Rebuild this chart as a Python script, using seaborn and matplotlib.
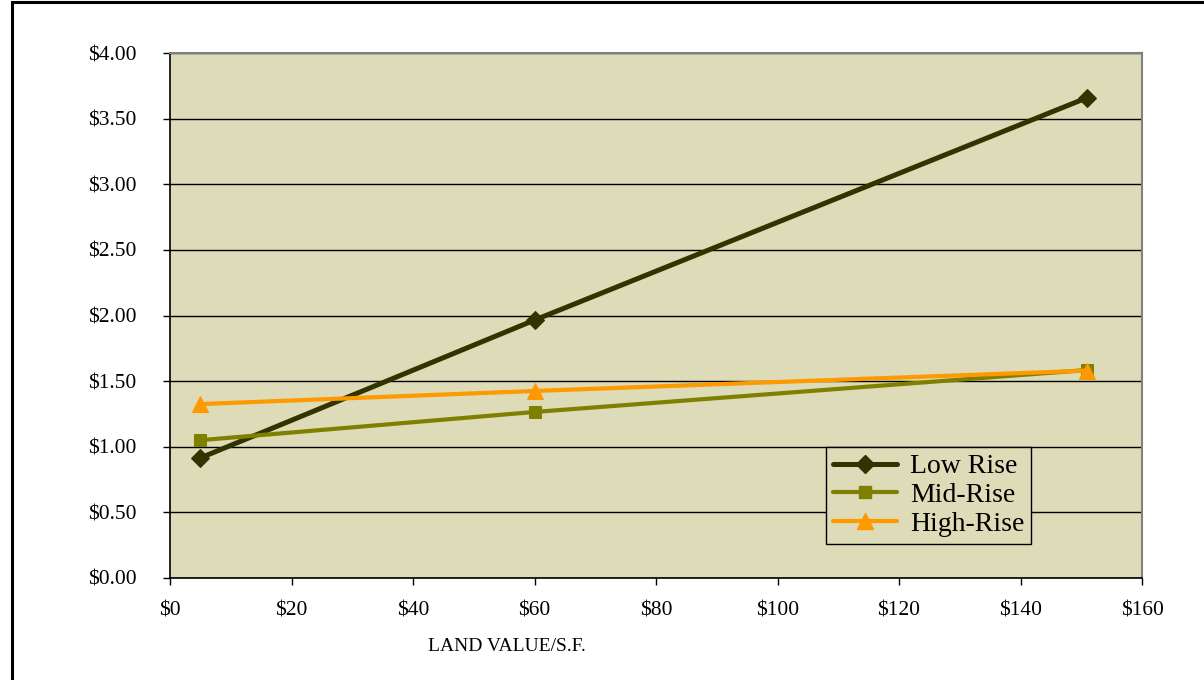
import matplotlib
matplotlib.use("Agg")
import matplotlib.pyplot as plt
from matplotlib.lines import Line2D
from matplotlib.patches import Rectangle
import pandas as pd
import seaborn as sns

# Land value per square foot ($) and resulting cost per series
land_value = [5, 60, 151]
low_rise = [0.915, 1.965, 3.66]
mid_rise = [1.05, 1.265, 1.585]
high_rise = [1.325, 1.425, 1.58]

series_names = ["Low Rise", "Mid-Rise", "High-Rise"]
x_ticks = [0, 20, 40, 60, 80, 100, 120, 140, 160]
y_ticks = [0.0, 0.5, 1.0, 1.5, 2.0, 2.5, 3.0, 3.5, 4.0]

colors = {"Low Rise": "#333300", "Mid-Rise": "#808000", "High-Rise": "#FF9900"}
markers = {"Low Rise": "D", "Mid-Rise": "s", "High-Rise": "^"}
msizes = {"Low Rise": 9.5, "Mid-Rise": 9, "High-Rise": 12}
lwidths = {"Low Rise": 3.6, "Mid-Rise": 3.0, "High-Rise": 3.0}

df = pd.concat([
    pd.DataFrame({"land": land_value, "cost": vals, "type": name})
    for name, vals in zip(series_names, [low_rise, mid_rise, high_rise])
], ignore_index=True)

sns.set_style("white")
plt.rcParams["font.family"] = ["Liberation Serif", "DejaVu Serif"]
plt.rcParams["text.color"] = "#000000"
plt.rcParams["xtick.color"] = "#000000"
plt.rcParams["ytick.color"] = "#000000"
plt.rcParams["axes.labelcolor"] = "#000000"

fig = plt.figure(figsize=(12.04, 6.8), dpi=100)
ax = fig.add_axes([170 / 1204, 1 - 578 / 680, (1142 - 170) / 1204, (578 - 53) / 680])
ax.set_facecolor("#DEDBB8")

for name in series_names:
    sub = df[df["type"] == name]
    sns.lineplot(data=sub, x="land", y="cost", ax=ax, color=colors[name],
                 marker=markers[name], markersize=msizes[name],
                 markeredgecolor=colors[name], linewidth=lwidths[name],
                 label=None, legend=False, zorder=3)

ax.set_xlim(0, 160)
ax.set_ylim(0, 4)
ax.set_xticks(x_ticks)
ax.set_yticks(y_ticks)
ax.set_xticklabels([f"${v}" for v in x_ticks], fontsize=15.5)
ax.set_yticklabels([f"${v:.2f}" for v in y_ticks], fontsize=15.5)
ax.set_xlabel("LAND VALUE/S.F.", fontsize=14)
ax.xaxis.set_label_coords((507 - 170) / 972, -0.115)
ax.set_ylabel("")

ax.yaxis.grid(True, color="#000000", linewidth=1.0)
ax.xaxis.grid(False)
ax.set_axisbelow(True)

ax.tick_params(axis="both", direction="out", length=5, width=1, color="#000000",
               left=True, bottom=True)
ax.tick_params(axis="y", pad=19)
ax.tick_params(axis="x", pad=12)
for side in ["left", "bottom"]:
    ax.spines[side].set_color("#000000")
    ax.spines[side].set_linewidth(1.2)
for side in ["top", "right"]:
    ax.spines[side].set_color("#808080")
    ax.spines[side].set_linewidth(1.5)

handles = [Line2D([0], [0], color=colors[n], marker=markers[n], markersize=msizes[n],
                  markeredgecolor=colors[n], linewidth=lwidths[n]) for n in series_names]
leg = ax.legend(handles, series_names, loc="upper left",
                bbox_to_anchor=((826 - 170) / 972, 1 - (447 - 53) / 525),
                fontsize=20, frameon=True, fancybox=False, framealpha=1,
                edgecolor="#000000", facecolor="#DEDBB8", borderpad=0.25,
                labelspacing=0.12, handlelength=2.3, handletextpad=0.47,
                borderaxespad=0)
leg.get_frame().set_linewidth(1.0)

# Outer chart frame (left and top edges visible)
fig.patches.append(Rectangle((12 / 1204, -0.1), 1.2, 1 - 2 / 680 + 0.1,
                             transform=fig.transFigure, fill=False,
                             edgecolor="#000000", linewidth=2.2))

fig.savefig("out.png", dpi=100)
